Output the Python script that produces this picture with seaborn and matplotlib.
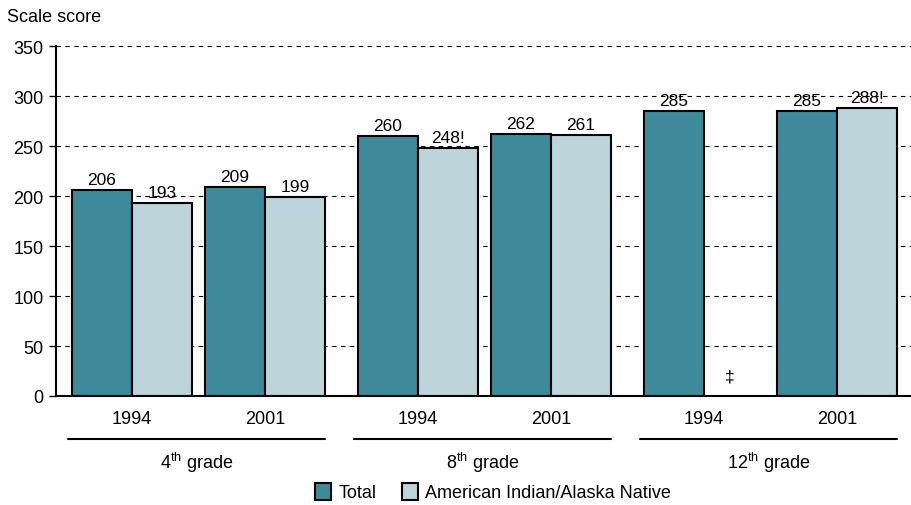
import matplotlib
matplotlib.use("Agg")
import matplotlib.pyplot as plt
import matplotlib.patches as mpatches
import matplotlib.transforms as mtrans
import seaborn as sns
import pandas as pd
import numpy as np

# ---- data ----
grades = ["4$^{\\mathrm{th}}$ grade", "8$^{\\mathrm{th}}$ grade", "12$^{\\mathrm{th}}$ grade"]
years = ["1994", "2001"]
series = ["Total", "American Indian/Alaska Native"]
total_scores = [206, 209, 260, 262, 285, 285]
aian_scores = [193, 199, 248, 261, np.nan, 288]
total_labels = ["206", "209", "260", "262", "285", "285"]
aian_labels = ["193", "199", "248!", "261", "\u2021", "288!"]
yticks = [0, 50, 100, 150, 200, 250, 300, 350]

colors = {"Total": "#3e8a9a", "American Indian/Alaska Native": "#bcd4da"}

sns.set_theme(style="white")
plt.rcParams["font.family"] = ["Liberation Sans", "DejaVu Sans"]
plt.rcParams["mathtext.fontset"] = "custom"
plt.rcParams["mathtext.rm"] = "Liberation Sans"
plt.rcParams["text.color"] = "black"
plt.rcParams["xtick.color"] = "black"
plt.rcParams["ytick.color"] = "black"

# layout positions: group offset of 2.15 per grade, 1 per year
group_step = 2.15
rows = []
pos_list = []
for g in range(len(grades)):
    for yi in range(len(years)):
        k = g * len(years) + yi
        pos = round(g * group_step + yi, 2)
        pos_list.append(pos)
        rows.append({"pos": pos, "score": total_scores[k], "series": series[0]})
        if not np.isnan(aian_scores[k]):
            rows.append({"pos": pos, "score": aian_scores[k], "series": series[1]})
df = pd.DataFrame(rows)

fig = plt.figure(figsize=(9.11, 5.06), dpi=100)
ax = fig.add_axes([56 / 911, (506 - 397) / 506, 1 - 56 / 911, 350 / 506])

sns.barplot(data=df, x="pos", y="score", hue="series", hue_order=series,
            palette=colors, native_scale=True, width=0.9, edgecolor="black",
            linewidth=1.5, errorbar=None, legend=False, saturation=1, ax=ax, zorder=3)

ax.set_ylim(0, 350)
ax.set_xlim(-0.571, 5.857)
ax.set_yticks(yticks)
ax.set_yticklabels([str(v) for v in yticks], fontsize=13)
ax.set_xticks(pos_list)
ax.set_xticklabels(years * len(grades), fontsize=13)
ax.tick_params(axis="x", length=0, pad=10, labelcolor="black")
ax.tick_params(axis="y", length=5, width=1, color="black", pad=4, left=True,
               direction="out", labelcolor="black")
ax.set_xlabel("")
ax.set_ylabel("")

for y in yticks[1:]:
    ax.axhline(y, color="black", lw=0.8, ls=(0, (4, 4)), zorder=1)

for s in ["top", "right"]:
    ax.spines[s].set_visible(False)
for s in ["left", "bottom"]:
    ax.spines[s].set_color("black")
    ax.spines[s].set_linewidth(1.5)
    ax.spines[s].set_zorder(4)

# bar value labels
present_aian_labels = [l for l, v in zip(aian_labels, aian_scores) if not np.isnan(v)]
for cont, labs in zip(ax.containers, [total_labels, present_aian_labels]):
    ax.bar_label(cont, labels=labs, padding=2, fontsize=12.5, color="black")

# dagger for missing value
bw = 0.45
for p, v, l in zip(pos_list, aian_scores, aian_labels):
    if np.isnan(v):
        ax.text(p + bw / 2 - 0.03, 12, l, ha="center", va="bottom", fontsize=12.5, color="black")

# grade group underlines and labels
trans = mtrans.blended_transform_factory(ax.transData, ax.transAxes)
for g, name in enumerate(grades):
    x0 = pos_list[g * 2] - 0.45 - 0.03
    x1 = pos_list[g * 2 + 1] + 0.45
    ax.plot([x0, x1], [-0.123, -0.123], color="black", lw=1.5, transform=trans, clip_on=False)
    ax.text((x0 + x1) / 2, -0.155, name, ha="center", va="top", fontsize=13,
            transform=trans, color="black")

fig.text(7 / 911, (506 - 18) / 506, "Scale score", ha="left", va="center", fontsize=13, color="black")

handles = [mpatches.Patch(facecolor=colors[s], edgecolor="black", linewidth=1.5, label=s) for s in series]
fig.legend(handles=handles, loc="center", bbox_to_anchor=(493 / 911, 13 / 506), ncol=2,
           frameon=False, fontsize=13, handlelength=0.9, handleheight=1.1,
           handletextpad=0.4, columnspacing=1.4, borderpad=0, labelcolor="black")

fig.savefig("out.png", dpi=100)
